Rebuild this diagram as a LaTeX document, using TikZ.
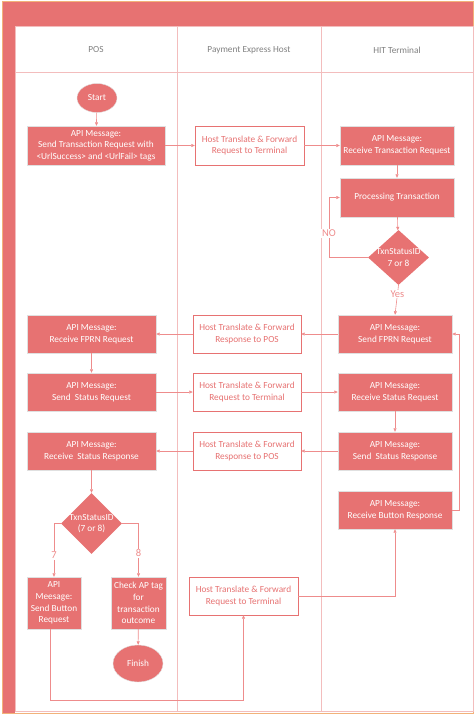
\documentclass[tikz,border=0pt]{standalone}
\usepackage{fontspec}
\setmainfont{Carlito}
\usepackage{xcolor}
\usetikzlibrary{arrows.meta, positioning, shapes.geometric}
\definecolor{laneRed}{HTML}{E77272}
\definecolor{lineRed}{HTML}{EE8C8C}
\definecolor{lanePink}{HTML}{F3BDBD}
\definecolor{edgeOrange}{HTML}{F2B27A}
\definecolor{labelGrey}{HTML}{808080}

\begin{document}
\begin{tikzpicture}[x=1pt, y=-1pt, font=\fontsize{9.3}{11.6}\selectfont,
  apibox/.style={rectangle, fill=laneRed, draw=black!12, text=white, align=center, minimum height=38pt, inner sep=1pt},
  hostbox/.style={rectangle, fill=white, draw=laneRed, text=laneRed, align=center, minimum width=109pt, minimum height=38pt},
  terminal/.style={ellipse, fill=laneRed, draw=black!12, text=white, inner sep=0pt},
  decision/.style={diamond, fill=laneRed, minimum width=61pt, minimum height=55pt, inner sep=0pt},
  flow/.style={->, >={Triangle[length=3.5pt, width=3pt]}, draw=lineRed, line width=0.6pt},
  flowlabel/.style={fill=white, text=lineRed, inner sep=1pt, font=\fontsize{10.5}{12}\selectfont},
  lanetitle/.style={text=labelGrey}]
\useasboundingbox (0,0) rectangle (476,715);

% pool frame and lanes
\fill[laneRed] (2.5,1.5) rectangle (473.5,26);
\fill[laneRed] (2.5,26) rectangle (15,713);
\draw[edgeOrange, line width=0.6pt] (2.5,1.5) rectangle (473.5,713);
\draw[lanePink, line width=0.8pt] (15,26) rectangle (473,711);
\draw[lanePink, line width=0.8pt] (15,72) -- (473,72);
\draw[lanePink, line width=0.8pt] (177,26) -- (177,711);
\draw[lanePink, line width=0.8pt] (321,26) -- (321,711);

\node (posLane) [lanetitle] at (96,50) {POS};
\node (hostLane) [lanetitle] at (249,50) {Payment Express Host};
\node (termLane) [lanetitle] at (397,50) {HIT Terminal};

% POS lane
\node (start) [terminal, minimum width=40pt, minimum height=29pt] at (97,98) {Start};
\node (sendTxn) [apibox, minimum width=138pt, minimum height=39pt] at (96,145.5) {API Message:\\Send Transaction Request with\\<UrlSuccess> and <UrlFail> tags};
\node (rcvFprn) [apibox, minimum width=129pt] at (91.5,334) {API Message:\\Receive FPRN Request};
\node (sendStReq) [apibox, minimum width=129pt] at (91.5,392) {API Message:\\Send\ \ Status Request};
\node (rcvStResp) [apibox, minimum width=129pt] at (91.5,451) {API Message:\\Receive\ \ Status Response};
\node (chk2) [decision, minimum height=61pt, label={[text=white, align=center]center:TxnStatusID\\(7 or 8)}] at (91.5,523.5) {};
\node (sendBtn) [apibox, minimum width=54pt, minimum height=52pt] at (54,603) {API\\Meesage:\\Send Button\\Request};
\node (checkAp) [apibox, minimum width=55pt, minimum height=52pt] at (138.5,603) {Check AP tag\\for\\transaction\\outcome};
\node (finish) [terminal, minimum width=50pt, minimum height=37pt] at (138,663.5) {Finish};

% host lane
\node (hostFwd1) [hostbox, minimum height=39pt] at (249.5,145.5) {Host Translate \& Forward\\Request to Terminal};
\node (hostResp1) [hostbox, minimum width=108pt] at (247,334) {Host Translate \& Forward\\Response to POS};
\node (hostFwd2) [hostbox, minimum width=108pt] at (247,392) {Host Translate \& Forward\\Request to Terminal};
\node (hostResp2) [hostbox, minimum width=108pt] at (247,451) {Host Translate \& Forward\\Response to POS};
\node (hostFwd3) [hostbox] at (243.5,596) {Host Translate \& Forward\\Request to Terminal};

% terminal lane
\node (rcvTxn) [apibox, minimum width=114pt, minimum height=39pt] at (397,145.5) {API Message:\\Receive Transaction Request};
\node (procTxn) [apibox, minimum width=114pt, minimum height=39pt] at (397,197.5) {Processing Transaction};
\node (chk1) [decision, label={[text=white, align=center]center:TxnStatusID\\7 or 8}] at (398.5,257.5) {};
\node (sendFprn) [apibox, minimum width=114pt] at (395,334) {API Message:\\Send FPRN Request};
\node (rcvStReq) [apibox, minimum width=114pt] at (395,392) {API Message:\\Receive Status Request};
\node (sendStResp) [apibox, minimum width=114pt] at (395,451) {API Message:\\Send\ \ Status Response};
\node (rcvBtn) [apibox, minimum width=114pt] at (395,510) {API Message:\\Receive Button Response};

\coordinate (noBend) at (329,257.5);

\draw[flow] (start) -- (sendTxn);
\draw[flow] (sendTxn) -- (hostFwd1);
\draw[flow] (hostFwd1) -- (rcvTxn);
\draw[flow] (rcvTxn) -- (procTxn);
\draw[flow] (procTxn) -- (chk1);
\draw[flow] (chk1.west) -- (noBend) |- node[flowlabel, pos=0.2] {NO} (procTxn.west);
\draw[flow] (chk1.south) -- node[flowlabel, pos=0.3] {Yes} (sendFprn.north);
\draw[flow] (sendFprn) -- (hostResp1);
\draw[flow] (hostResp1) -- (rcvFprn);
\draw[flow] (rcvFprn) -- (sendStReq);
\draw[flow] (sendStReq) -- (hostFwd2);
\draw[flow] (hostFwd2) -- (rcvStReq);
\draw[flow] (rcvStReq) -- (sendStResp);
\draw[flow] (sendStResp) -- (hostResp2);
\draw[flow] (hostResp2) -- (rcvStResp);
\draw[flow] (rcvStResp) -- (chk2);
\draw[flow] (chk2.west) -| node[flowlabel, pos=0.8] {7} (sendBtn.north);
\draw[flow] (chk2.east) -| node[flowlabel, pos=0.78] {8} (checkAp.north);
\draw[flow] (checkAp) -- (finish);
\draw[flow] ([xshift=-4pt]sendBtn.south) -- ++(0,71) -| (hostFwd3.south);
\draw[flow] (hostFwd3.east) -| (rcvBtn.south);
\draw[flow] (rcvBtn.east) -- ++(7,0) |- (sendFprn.east);
\end{tikzpicture}
\end{document}
